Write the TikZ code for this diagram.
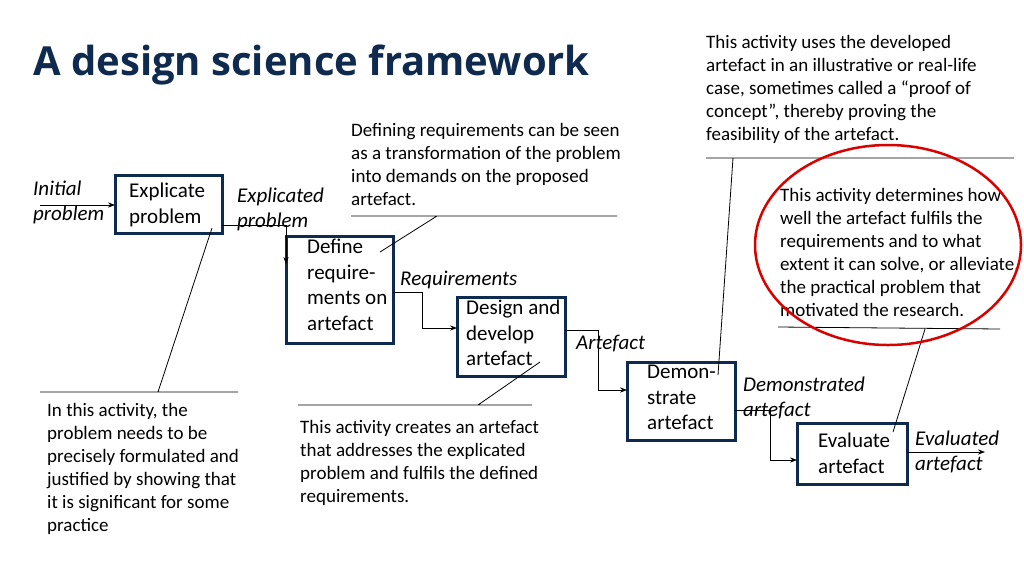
\documentclass[tikz,border=0pt]{standalone}
\usepackage{fontspec}
\setmainfont{Carlito}
\newfontfamily\titlefont{Open Sans}
\usetikzlibrary{arrows.meta}
\definecolor{navy}{HTML}{0E2A4F}
\begin{document}
\begin{tikzpicture}[x=1pt,y=-1pt,
        box/.style={draw=navy, line width=3pt, inner sep=0pt},
        txt/.style={anchor=north west, inner sep=0pt, align=left,
                        font=\fontsize{19}{23}\selectfont},
        lab/.style={anchor=north west, inner sep=0pt, align=left,
                        font=\fontsize{21}{25}\selectfont\itshape},
        btxt/.style={anchor=north west, inner sep=0pt, align=left,
                        font=\fontsize{21}{25.5}\selectfont},
        flow/.style={-{Stealth[length=7pt]}, line width=0.8pt},
        note/.style={line width=0.8pt}]
    \useasboundingbox (0,0) rectangle (1024,576);
    \node[anchor=base west, inner sep=0pt, text=navy,
          font=\titlefont\bfseries\fontsize{40}{44}\selectfont] (title) at (33,75) {A design science framework};

    % process boxes
    \draw[box] (115,175) rectangle (222,233);
    \node[btxt] (explicate) at (129,183) {Explicate\\problem};
    \draw[box] (286,236) rectangle (393,343);
    \node[btxt] (define) at (307,239) {Define\\require-\\ments on\\artefact};
    \draw[box] (457,297) rectangle (565,376);
    \node[btxt] (design) at (466,300) {Design and\\develop\\artefact};
    \draw[box] (627,362) rectangle (735,440);
    \node[btxt] (demo) at (647,365) {Demon-\\strate\\artefact};
    \draw[box] (797,423) rectangle (907,484);
    \node[btxt] (evaluate) at (818,433) {Evaluate\\artefact};

    % flow labels
    \node[lab] (initial) at (33,181) {Initial\\problem};
    \node[lab] (explicated) at (237,188) {Explicated\\problem};
    \node[lab] (reqs) at (400,271) {Requirements};
    \node[lab] (artefact) at (576,335) {Artefact};
    \node[lab] (demonstrated) at (743,377) {Demonstrated\\artefact};
    \node[lab] (evaluated) at (915,431) {Evaluated\\artefact};

    % flow connectors
    \coordinate (inA) at (40,205);
    \coordinate (inB) at (115,205);
    \draw[flow] (inA) -- (inB);
    \coordinate (e1) at (222,225);
    \coordinate (e2) at (286,264);
    \draw[flow] (e1) -| (e2);
    \coordinate (d1) at (393,292);
    \coordinate (d2) at (422,328);
    \coordinate (d3) at (457,328);
    \draw[flow] (d1) -| (d2) -- (d3);
    \coordinate (g1) at (565,330);
    \coordinate (g2) at (598,390);
    \coordinate (g3) at (627,390);
    \draw[flow] (g1) -| (g2) -- (g3);
    \coordinate (m1) at (735,410);
    \coordinate (m2) at (770,460);
    \coordinate (m3) at (797,460);
    \draw[flow] (m1) -| (m2) -- (m3);
    \coordinate (v1) at (907,452);
    \coordinate (v2) at (985,452);
    \draw[flow] (v1) -- (v2);

    % notes
    \node[txt] (n1) at (47,403) {In this activity, the\\problem needs to be\\precisely formulated and\\justified by showing that\\it is significant for some\\practice};
    \draw[note] (40,392) -- (238,392) (158,392) -- (212,228);
    \node[txt] (n2) at (351,123) {Defining requirements can be seen\\as a transformation of the problem\\into demands on the proposed\\artefact.};
    \draw[note] (351,216) -- (617,216) (437,216) -- (380,252);
    \node[txt] (n3) at (300,420) {This activity creates an artefact\\that addresses the explicated\\problem and fulfils the defined\\requirements.};
    \draw[note] (298,405) -- (532,405) (478,405) -- (540,362);
    \node[txt] (n4) at (706,35) {This activity uses the developed\\artefact in an illustrative or real-life\\case, sometimes called a “proof of\\concept”, thereby proving the\\feasibility of the artefact.};
    \draw[note] (706,158) -- (1014,158) (733,158) -- (718,375);
    \node[txt] (n5) at (780,188) {This activity determines how\\well the artefact fulfils the\\requirements and to what\\extent it can solve, or alleviate,\\the practical problem that\\motivated the research.};
    \draw[note] (778,327) -- (1000,329) (925,329) -- (893,432);
    \draw[red!85!black, line width=2.5pt] (888,245) ellipse (133 and 100);
\end{tikzpicture}
\end{document}
